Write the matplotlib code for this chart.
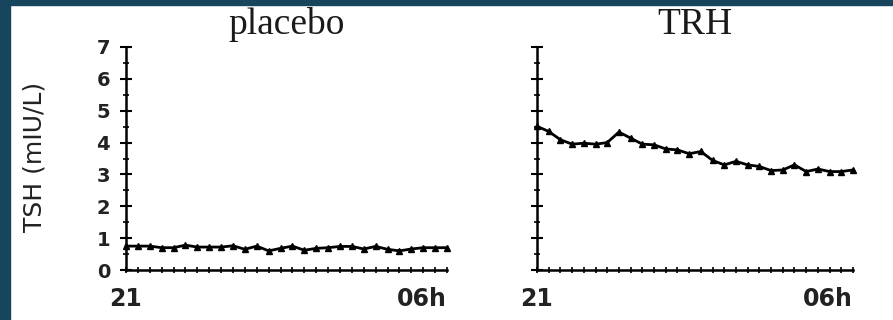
import numpy as np
import matplotlib.pyplot as plt
from matplotlib.patches import Rectangle

# hours after 21:00, samples every 20 min
hours = np.arange(28) / 3.0

placebo = [0.75, 0.75, 0.75, 0.70, 0.70, 0.78, 0.72, 0.72, 0.72, 0.76,
           0.65, 0.75, 0.60, 0.68, 0.75, 0.62, 0.68, 0.70, 0.74, 0.74,
           0.66, 0.74, 0.65, 0.60, 0.66, 0.70, 0.70, 0.70]

trh = [4.51, 4.35, 4.09, 3.95, 3.98, 3.95, 4.00, 4.33, 4.14, 3.95,
       3.93, 3.80, 3.77, 3.65, 3.72, 3.44, 3.30, 3.41, 3.30, 3.25,
       3.12, 3.14, 3.30, 3.09, 3.17, 3.09, 3.09, 3.14]

titles = ['placebo', 'TRH']
xtick_pos = [0, 9]
xtick_labels = ['21', '06h']
ylabel = 'TSH (mIU/L)'

W, H = 893, 320
fig = plt.figure(figsize=(W / 100, H / 100), dpi=100)
fig.patch.set_facecolor('white')

# dark blue frame of the slide
border = '#17455e'
fig.patches.append(Rectangle((0, 0), 10 / W, 1, transform=fig.transFigure,
                             color=border, zorder=0))
fig.patches.append(Rectangle((0, 1 - 5 / H), 1, 5 / H, transform=fig.transFigure,
                             color=border, zorder=0))

ax1 = fig.add_axes([126 / W, 50 / H, 321 / W, 223 / H])
ax2 = fig.add_axes([537 / W, 50 / H, 316 / W, 223 / H])

for ax, data, title in zip([ax1, ax2], [placebo, trh], titles):
    ax.plot(hours, data, color='black', lw=2.0, marker='^', ms=5,
            clip_on=False)
    ax.set_xlim(0, 9)
    ax.set_ylim(0, 7)
    for s in ['top', 'right']:
        ax.spines[s].set_visible(False)
    for s in ['left', 'bottom']:
        ax.spines[s].set_linewidth(1.8)
    ax.set_yticks(range(8))
    ax.set_yticks(np.arange(0.5, 7, 1), minor=True)
    ax.set_xticks(hours, minor=True)
    ax.set_xticks(xtick_pos)
    labs = ax.set_xticklabels(xtick_labels, fontsize=17, fontweight='bold',
                              color='#222222')
    labs[-1].set_horizontalalignment('right')
    ax.tick_params(axis='y', which='major', direction='inout', length=9,
                   width=1.5, pad=7, labelsize=14)
    ax.tick_params(axis='y', which='minor', direction='inout', length=5,
                   width=1.2)
    ax.tick_params(axis='x', which='both', direction='inout', length=4,
                   width=1.2, pad=10)
    ax.set_title(title, family='Liberation Serif', fontsize=27, pad=9,
                 color='#1a1a1a')

for lab in ax1.get_yticklabels():
    lab.set_fontweight('bold')
    lab.set_color('#222222')
ax2.tick_params(axis='y', labelleft=False)

fig.text(35 / W, 1 - 157 / H, ylabel, rotation=90, ha='center', va='center',
         fontsize=18, color='#222222')

fig.savefig('out.png', dpi=100)
